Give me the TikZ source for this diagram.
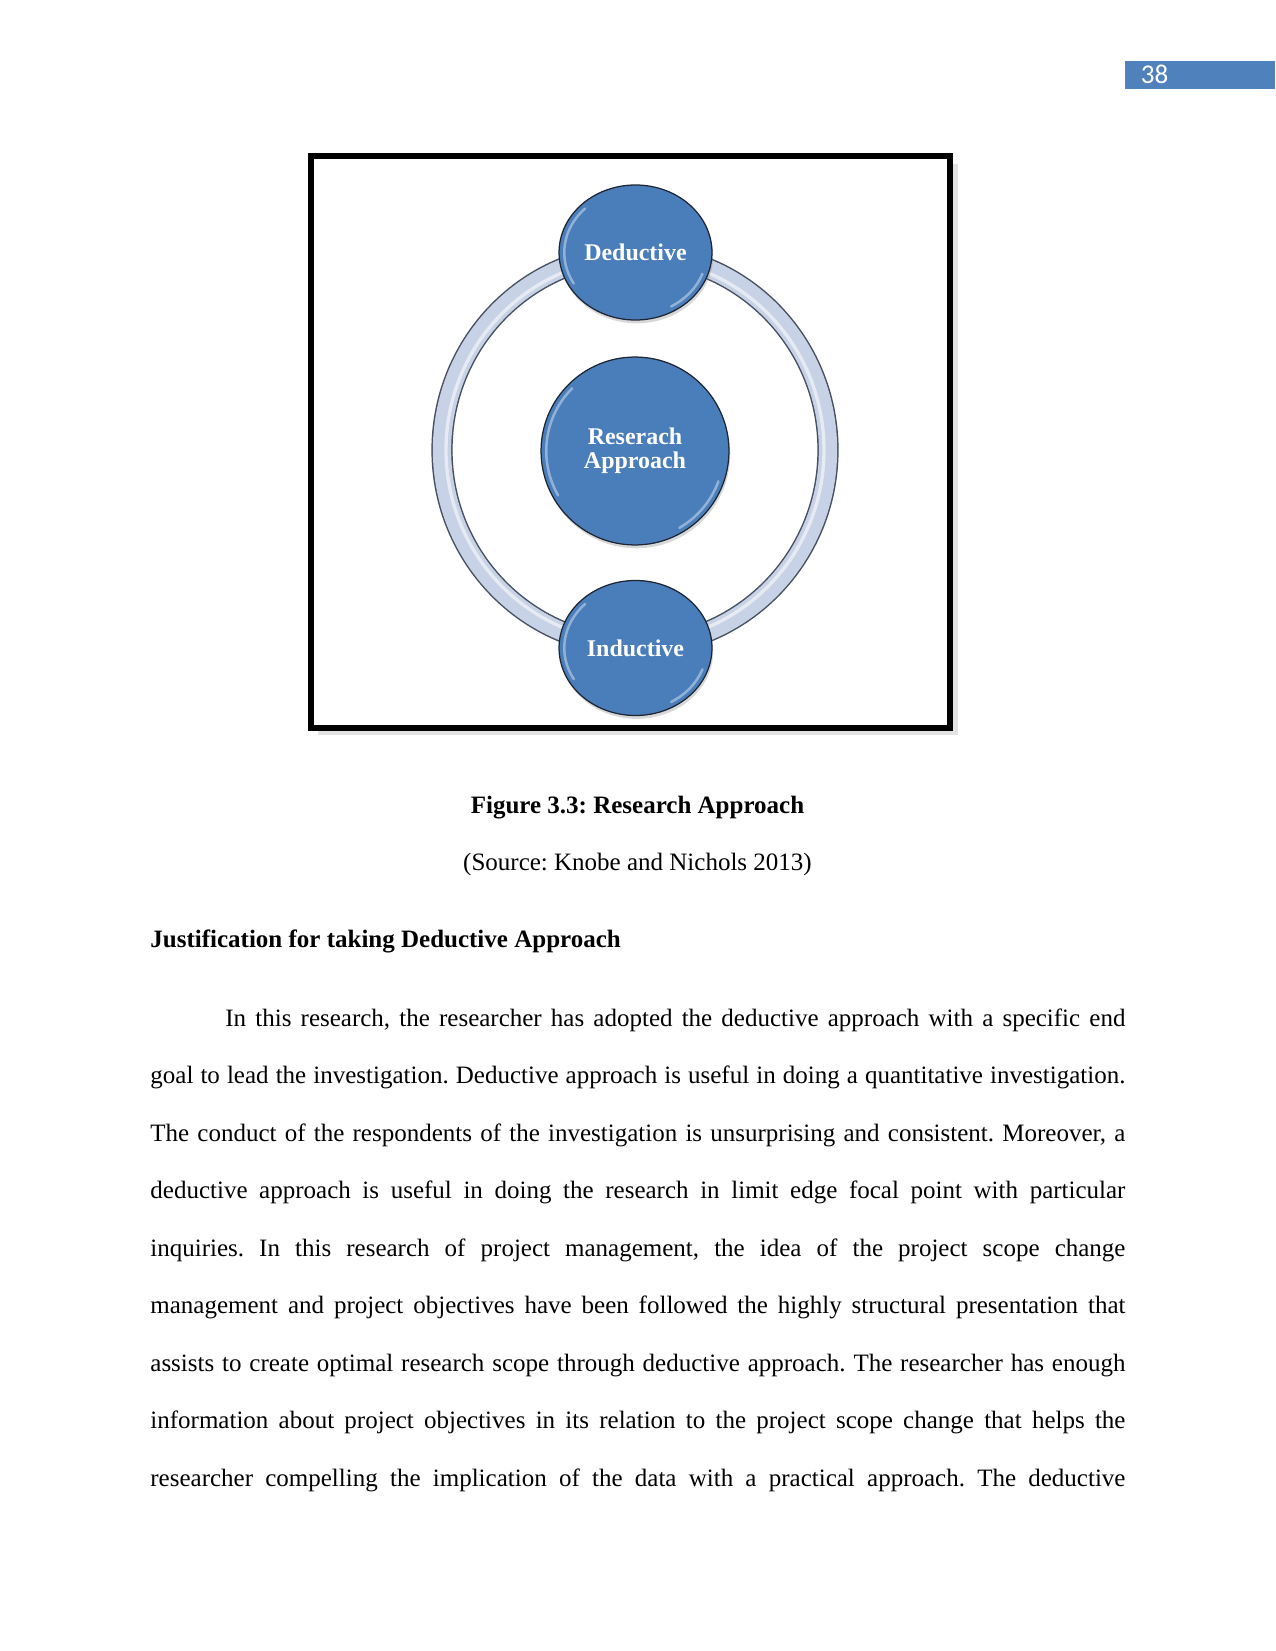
\documentclass[tikz,border=0pt]{standalone}
\usepackage{fontspec}
\setmainfont{Liberation Serif}
\newfontfamily\calibri{Carlito}
\usepackage{xcolor}
\usetikzlibrary{calc,positioning,shapes.geometric,shadows}

\definecolor{bubbleblue}{RGB}{74,126,187}
\definecolor{bubbleedge}{RGB}{30,38,52}
\definecolor{ringfill}{RGB}{200,210,230}
\definecolor{ringline}{RGB}{70,80,96}
\definecolor{barblue}{RGB}{79,129,189}

\begin{document}
\begin{tikzpicture}[
    % GLOBAL CFG
    x=0.48pt, y=-0.48pt,
    font=\fontsize{12pt}{14pt}\selectfont\frenchspacing,
    % Styles
    figframe/.style={% The black box round the figure
        rectangle,
        draw=black,
        line width=2.88pt,
        fill=white,
        minimum width=307pt,
        minimum height=274.3pt,
        drop shadow={opacity=.22, shadow xshift=3.5pt, shadow yshift=-3.5pt},
        },
    bubble/.style={% For the blue balls
        ellipse,
        draw=bubbleedge,
        line width=.6pt,
        fill=bubbleblue,
        text=white,
        align=center,
        inner sep=0pt,
        font=\fontsize{11.5pt}{11.6pt}\selectfont\bfseries,
        drop shadow={opacity=.3, shadow xshift=.6pt, shadow yshift=-1.6pt},
        gloss,
        },
    gloss/.style={% White shine inside the balls
        path picture={
            \draw [white, opacity=.4, line width=1.2pt, line cap=round]
                let \p1=(path picture bounding box.south west),
                    \p2=(path picture bounding box.north east),
                    \n1={(\x2-\x1)/2-2.5pt}, \n2={(\y2-\y1)/2-2.5pt}
                in ($(path picture bounding box.center)+(210:\n1 and \n2)$)
                   arc [start angle=210, end angle=135, x radius=\n1, y radius=\n2]
                   ($(path picture bounding box.center)+(-20:\n1 and \n2)$)
                   arc [start angle=-20, end angle=-60, x radius=\n1, y radius=\n2];
            },
        },
    ringedge/.style={% Dark rim of the loop
        line width=10.2pt,
        draw=ringline,
        },
    ringband/.style={% Light band of the loop
        line width=8.8pt,
        draw=ringfill,
        },
    ringshine/.style={% Highlight on the loop
        line width=1.6pt,
        draw=white,
        opacity=.55,
        },
    pagebar/.style={% Blue strip at the top
        rectangle,
        fill=barblue,
        minimum width=72pt,
        minimum height=13.44pt,
        inner sep=0pt,
        },
    pagenum/.style={%
        font=\calibri\fontsize{13pt}{14pt}\selectfont,
        text=white,
        inner sep=0pt,
        },
    captext/.style={%
        inner sep=0pt,
        font=\fontsize{12pt}{14pt}\selectfont\frenchspacing,
        },
    boldtext/.style={%
        inner sep=0pt,
        font=\fontsize{12pt}{14pt}\selectfont\bfseries\frenchspacing,
        },
    bodytext/.style={% Double spaced paragraph
        inner sep=0pt,
        text width=468pt,
        align=justify,
        font=\fontsize{12pt}{27.6pt}\selectfont\frenchspacing,
        },
    ]

    \useasboundingbox (0,0) rectangle (1275,1651);

    % Page number
    \node [pagebar, anchor=north west] (pgbar) at (1125,61) {};
    \node [pagenum, anchor=base west] (pgno) at (1140.5,83.3) {38};

    % Draw the figure box
    \node [figframe] (fig) at (630.5,442) {};

    % Centre ball
    \node [bubble, minimum width=90.2pt, minimum height=90.2pt] (ra) at (635,451) {Reserach\\Approach};

    % The loop round it
    \coordinate (hub) at (635,450);
    \draw [ringedge] (hub) ellipse [x radius=193, y radius=196];
    \draw [ringband] (hub) ellipse [x radius=193, y radius=196];
    \draw [ringshine] (hub) ellipse [x radius=189, y radius=192];

    % Balls on the loop
    \node [bubble, minimum width=73.4pt, minimum height=64.8pt] (ded) at (635.5,252.5) {Deductive};
    \node [bubble, minimum width=73.4pt, minimum height=64.8pt] (ind) at (635.5,648) {Inductive};

    % Caption
    \node [boldtext, anchor=base] (capt) at (637.5,813.3) {Figure 3.3: Research Approach};
    \node [captext, anchor=base] (src) at (637.5,870.7) {(Source: Knobe and Nichols 2013)};

    % Heading and text
    \node [boldtext, anchor=base west] (head) at (150,947) {Justification for taking Deductive Approach};
    \node [bodytext, anchor=north west] (para) at (150,1005.2) {%
        \hfuzz=8pt \hbadness=10000
        \rule{0pt}{10pt}\hspace*{36pt}In this research, the researcher has adopted the deductive approach with a specific end\linebreak
        goal to lead the investigation. Deductive approach is useful in doing a quantitative investigation.\linebreak
        The conduct of the respondents of the investigation is unsurprising and consistent. Moreover, a\linebreak
        deductive approach is useful in doing the research in limit edge focal point with particular\linebreak
        inquiries. In this research of project management, the idea of the project scope change\linebreak
        management and project objectives have been followed the highly structural presentation that\linebreak
        assists to create optimal research scope through deductive approach. The researcher has enough\linebreak
        information about project objectives in its relation to the project scope change that helps the\linebreak
        researcher compelling the implication of the data with a practical approach. The deductive\parfillskip=0pt\par};

\end{tikzpicture}
\end{document}
